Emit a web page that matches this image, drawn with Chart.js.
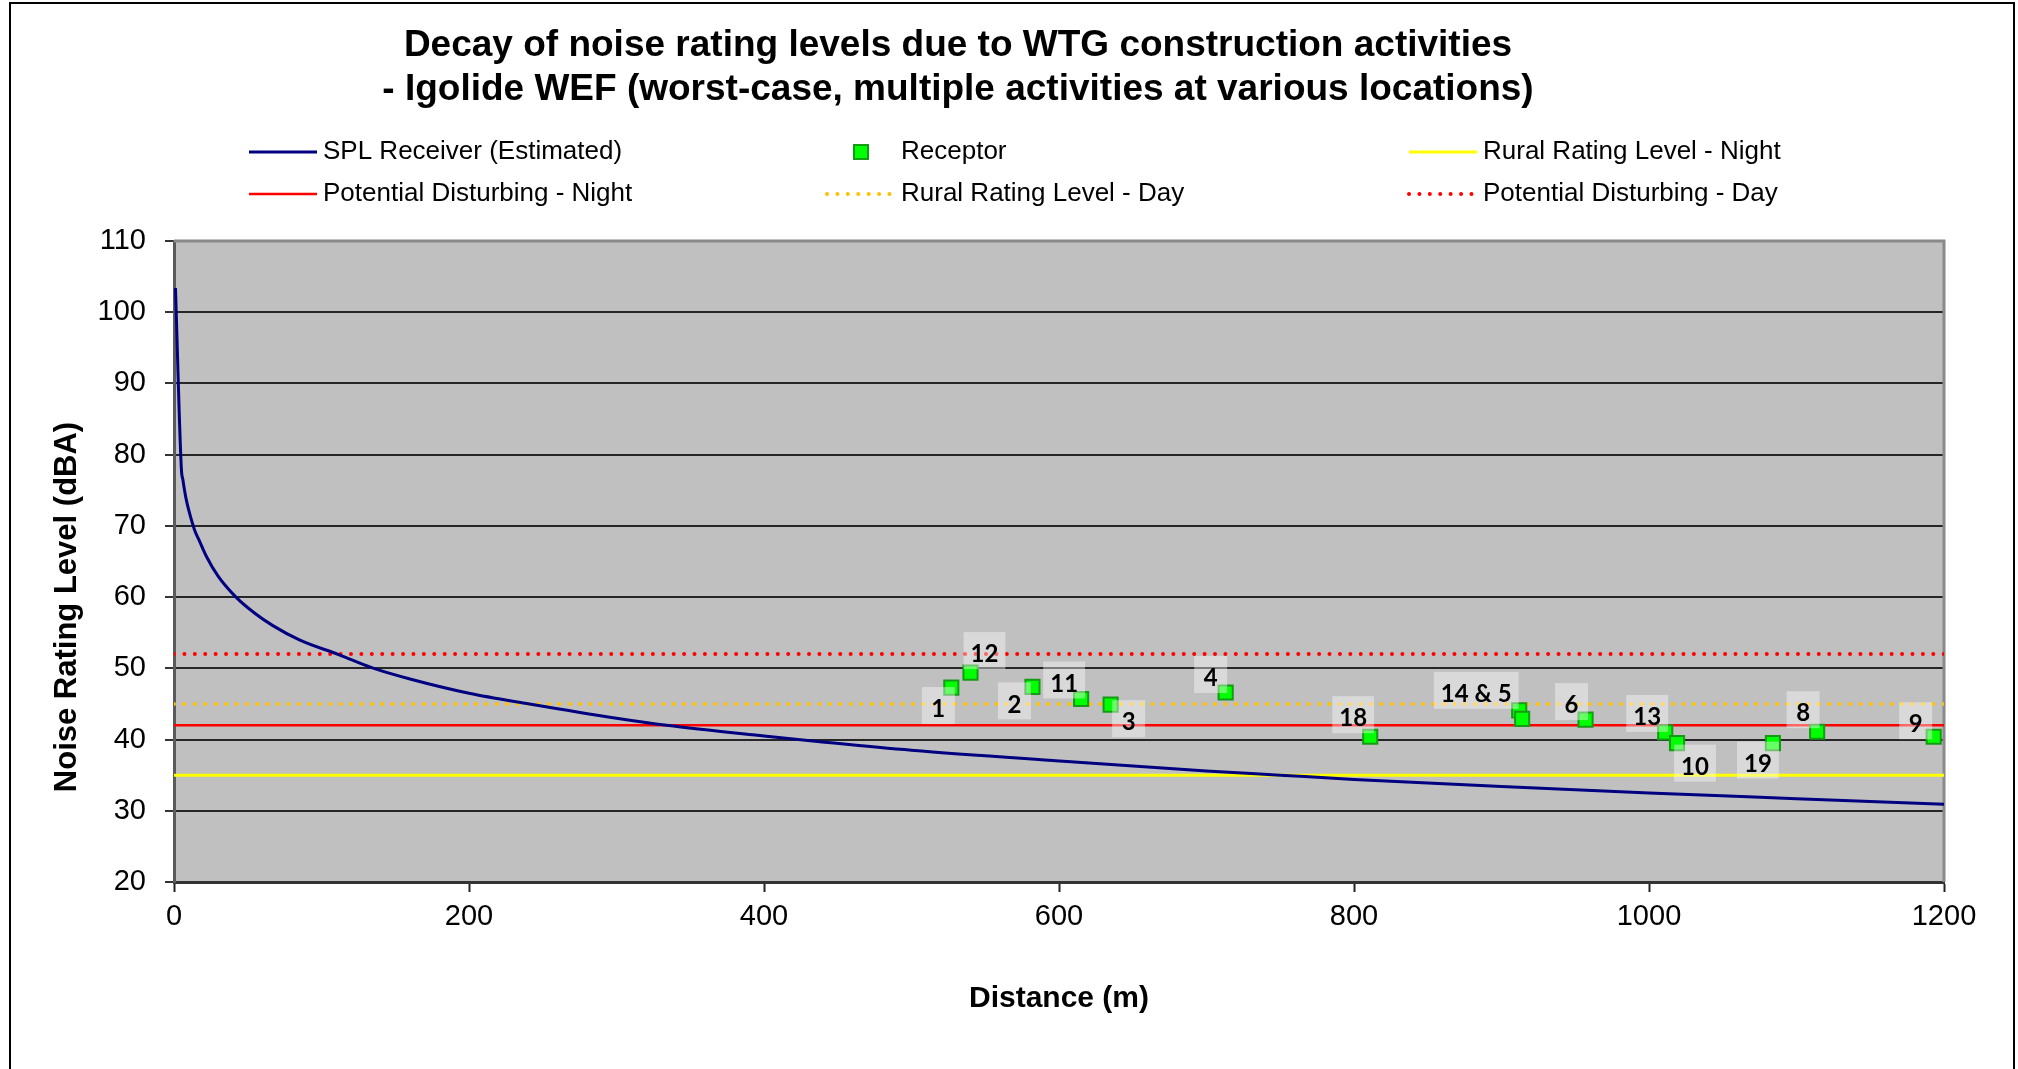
<!DOCTYPE html>
<html>
<head>
<meta charset="utf-8">
<title>Decay of noise rating levels</title>
<script src="https://cdn.jsdelivr.net/npm/chart.js@4.4.1/dist/chart.umd.min.js"></script>
<style>
  body { margin: 0; background: #fff; }
  #wrap { width: 2018px; height: 1069px; }
</style>
</head>
<body>
<div id="wrap"><canvas id="noiseChart" width="2018" height="1069"></canvas></div>
<script>
// estimated SPL at the receiver vs distance (m)
let splDistance = [1, 5, 6, 8, 10, 14, 17, 22, 30, 42, 55, 67, 85, 112, 134, 160, 200, 241, 300, 334, 400, 438, 500, 600, 700, 750, 800, 900, 1000, 1100, 1200];
let splLevel = [103.4, 78, 76.5, 74, 72.2, 69.4, 68, 65.7, 62.9, 60, 57.7, 56, 54, 51.9, 50.1, 48.5, 46.5, 45, 43, 42, 40.5, 39.7, 38.5, 37, 35.6, 35, 34.4, 33.4, 32.5, 31.7, 30.9];

// receptors
let receptorName = ['1', '12', '2', '11', '3', '4', '18', '14', '5', '6', '13', '10', '19', '8', '9'];
let receptorDistance = [527, 540, 582, 615, 635, 713, 811, 912, 914, 957, 1011, 1019, 1084, 1114, 1193];
let receptorLevel = [47.3, 49.4, 47.4, 45.7, 44.9, 46.6, 40.4, 44.1, 42.9, 42.8, 41.0, 39.5, 39.5, 41.1, 40.4];
let receptorTag = ['1', '12', '2', '11', '3', '4', '18', '14 & 5', '', '6', '13', '10', '19', '8', '9'];

// limit levels (dBA)
let ruralNight = 35;
let ruralDay = 45;
let disturbNight = 42;
let disturbDay = 52;
let xRange = [0, 1200];

// where each receptor tag sits relative to its marker (px)
const tagOffset = [[-13, 22], [14, -18], [-18, 18], [-17, -15], [18, 18], [-15, -14], [-17, -18], [-43, -16], null,
  [-14, -14], [-18, -15], [18, 24], [-15, 21], [-14, -18], [-18, -12]];

const FONT = "'Liberation Sans', Arial, sans-serif";
Chart.defaults.font.family = FONT;
Chart.defaults.color = '#000';

function flatLine(level) {
  return xRange.map(x => ({ x: x, y: level }));
}

const receptorPoints = receptorDistance.map((d, i) => ({ x: d, y: receptorLevel[i] }));
const splPoints = splDistance.map((d, i) => ({ x: d, y: splLevel[i] }));

// background, outer frame and plot border
const chartFrame = {
  id: 'chartFrame',
  beforeDraw(chart) {
    const { ctx, chartArea: a } = chart;
    ctx.save();
    ctx.fillStyle = '#fff';
    ctx.fillRect(0, 0, chart.width, chart.height);
    ctx.strokeStyle = '#000';
    ctx.lineWidth = 2;
    ctx.strokeRect(10, 3, 2004, 1100);
    ctx.fillStyle = '#c0c0c0';
    ctx.fillRect(a.left, a.top, a.right - a.left, a.bottom - a.top);
    ctx.restore();
  },
  beforeDatasetsDraw(chart) {
    const { ctx, chartArea: a } = chart;
    ctx.save();
    ctx.strokeStyle = '#8a8a8a';
    ctx.lineWidth = 3;
    ctx.beginPath();
    ctx.moveTo(a.left, a.top);
    ctx.lineTo(a.right, a.top);
    ctx.lineTo(a.right, a.bottom);
    ctx.stroke();
    ctx.restore();
  }
};

// receptor number tags on light boxes
const receptorTags = {
  id: 'receptorTags',
  afterDatasetsDraw(chart) {
    const { ctx } = chart;
    const meta = chart.getDatasetMeta(0);
    ctx.save();
    ctx.font = "bold 24px Lato, 'Open Sans', sans-serif";
    ctx.textAlign = 'center';
    ctx.textBaseline = 'middle';
    meta.data.forEach((pt, i) => {
      const tag = receptorTag[i];
      if (!tag || !tagOffset[i]) return;
      const cx = pt.x + tagOffset[i][0];
      const cy = pt.y + tagOffset[i][1];
      const tw = ctx.measureText(tag).width;
      const w = Math.max(33, tw + 14);
      const h = 37;
      ctx.fillStyle = 'rgba(255,255,255,0.4)';
      ctx.fillRect(cx - w / 2, cy - 4 - h / 2, w, h);
      ctx.fillStyle = '#000';
      ctx.fillText(tag, cx, cy);
    });
    ctx.restore();
  }
};

// title, y axis title and the 3x2 legend
const chartText = {
  id: 'chartText',
  afterDraw(chart) {
    const { ctx } = chart;
    ctx.save();
    ctx.fillStyle = '#000';
    ctx.textAlign = 'center';
    ctx.textBaseline = 'middle';
    ctx.font = 'bold 37px ' + FONT;
    ctx.fillText('Decay of noise rating levels due to WTG construction activities', 958, 46);
    ctx.fillText('- Igolide WEF (worst-case, multiple activities at various locations)', 958, 90);

    ctx.save();
    ctx.translate(67, 607);
    ctx.rotate(-Math.PI / 2);
    ctx.font = 'bold 31px ' + FONT;
    ctx.fillText('Noise Rating Level (dBA)', 0, 0);
    ctx.restore();

    const ds = chart.data.datasets;
    const slots = [
      [1, 247, 152], [0, 825, 152], [5, 1407, 152],
      [3, 247, 194], [4, 825, 194], [2, 1407, 194]
    ];
    ctx.font = '26px ' + FONT;
    ctx.textAlign = 'left';
    slots.forEach(([idx, x, y]) => {
      const d = ds[idx];
      if (idx === 0) {
        ctx.fillStyle = d.pointBackgroundColor;
        ctx.strokeStyle = d.pointBorderColor;
        ctx.lineWidth = 2;
        ctx.fillRect(x + 29, y - 7, 14, 14);
        ctx.strokeRect(x + 29, y - 7, 14, 14);
      } else {
        ctx.save();
        ctx.strokeStyle = d.borderColor;
        ctx.lineWidth = d.borderWidth;
        ctx.lineCap = d.borderCapStyle || 'butt';
        ctx.setLineDash(d.borderDash || []);
        ctx.beginPath();
        ctx.moveTo(x + 2, y);
        ctx.lineTo(x + 70, y);
        ctx.stroke();
        ctx.restore();
      }
      ctx.fillStyle = '#000';
      ctx.fillText(d.label, x + 76, y);
    });
    ctx.restore();
  }
};

const dotted = [0.01, 10.4];

new Chart(document.getElementById('noiseChart'), {
  type: 'scatter',
  data: {
    datasets: [
      {
        label: 'Receptor',
        data: receptorPoints,
        showLine: false,
        pointStyle: 'rect',
        pointRadius: 10,
        pointBackgroundColor: '#00ff00',
        pointBorderColor: '#159a15',
        pointBorderWidth: 2
      },
      {
        label: 'SPL Receiver (Estimated)',
        data: splPoints,
        showLine: true,
        borderColor: '#000080',
        borderWidth: 3,
        cubicInterpolationMode: 'monotone',
        pointRadius: 0
      },
      {
        label: 'Potential Disturbing - Day',
        data: flatLine(disturbDay),
        showLine: true,
        borderColor: '#ff0000',
        borderWidth: 4,
        borderDash: dotted,
        borderCapStyle: 'round',
        pointRadius: 0
      },
      {
        label: 'Potential Disturbing - Night',
        data: flatLine(disturbNight),
        showLine: true,
        borderColor: '#ff0000',
        borderWidth: 2.5,
        pointRadius: 0
      },
      {
        label: 'Rural Rating Level - Day',
        data: flatLine(ruralDay),
        showLine: true,
        borderColor: '#ffc000',
        borderWidth: 4,
        borderDash: dotted,
        borderCapStyle: 'round',
        pointRadius: 0
      },
      {
        label: 'Rural Rating Level - Night',
        data: flatLine(ruralNight),
        showLine: true,
        borderColor: '#ffff00',
        borderWidth: 3,
        pointRadius: 0
      }
    ]
  },
  options: {
    responsive: false,
    animation: false,
    layout: { padding: { top: 241, right: 74, bottom: 0, left: 0 } },
    plugins: {
      legend: { display: false },
      title: { display: false },
      tooltip: { enabled: false }
    },
    scales: {
      x: {
        type: 'linear',
        min: 0,
        max: 1200,
        afterFit(scale) { scale.height = 187; },
        ticks: { stepSize: 200, padding: 8, font: { size: 29 }, callback: v => String(v) },
        grid: { drawOnChartArea: false, drawTicks: true, tickLength: 10, tickColor: '#222', tickWidth: 2 },
        border: { display: true, color: '#333', width: 3 },
        title: {
          display: true,
          text: 'Distance (m)',
          font: { size: 30, weight: 'bold' },
          padding: { top: 0, bottom: 52 }
        }
      },
      y: {
        min: 20,
        max: 110,
        afterFit(scale) { scale.width = 174; },
        ticks: { stepSize: 10, padding: 19, font: { size: 29 } },
        grid: {
          color: c => (c.tick && c.tick.value === 110 ? '#8a8a8a' : '#262626'),
          lineWidth: 2,
          tickLength: 9,
          tickColor: '#333'
        },
        border: { display: true, color: '#5a5a5a', width: 3 }
      }
    }
  },
  plugins: [chartFrame, receptorTags, chartText]
});
</script>
</body>
</html>
